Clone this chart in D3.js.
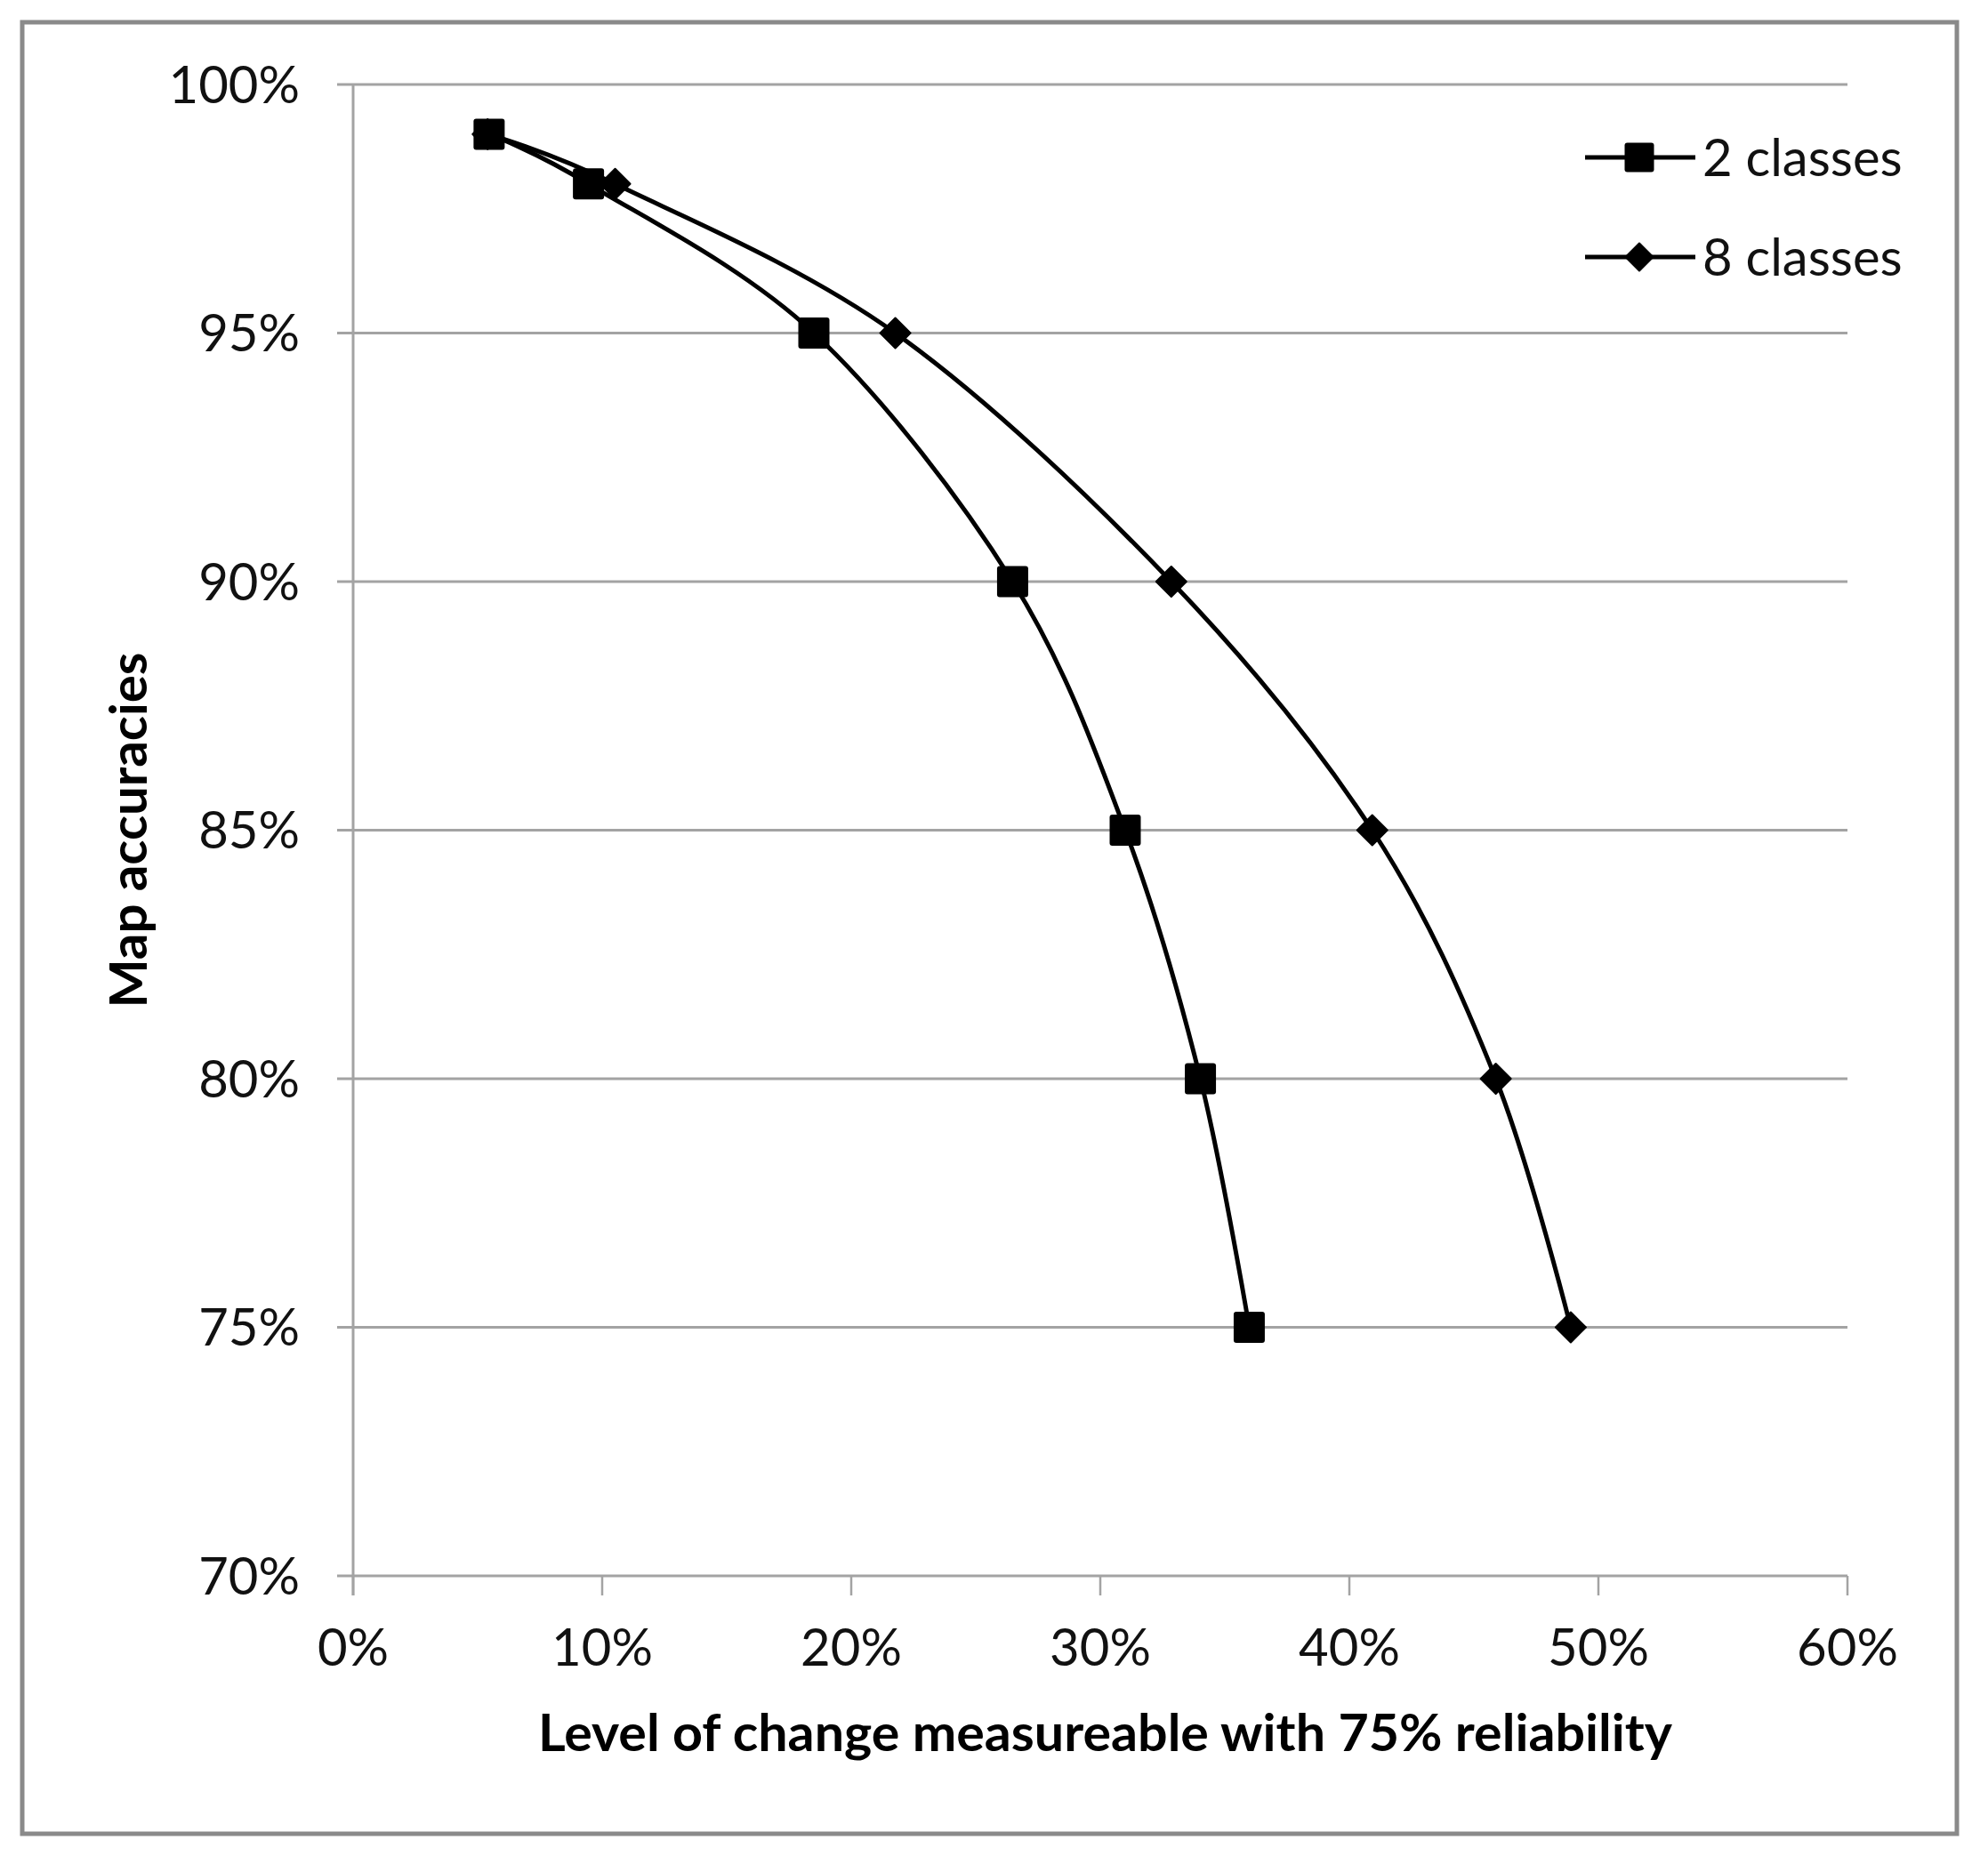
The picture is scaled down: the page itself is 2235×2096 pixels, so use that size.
<!DOCTYPE html>
<html><head><meta charset="utf-8">
<script src="https://cdn.jsdelivr.net/npm/d3@7"></script>
<style>body{margin:0;background:#fff}svg{display:block}</style>
</head><body><svg id="c" width="2235" height="2096"></svg>
<script>
// ---- data ----
const accuracies = [0.99, 0.98, 0.95, 0.90, 0.85, 0.80, 0.75];
const change2classes = [0.0546, 0.0945, 0.185, 0.2648, 0.310, 0.3402, 0.3598];
const change8classes = [0.054, 0.1052, 0.2177, 0.3285, 0.4092, 0.4588, 0.4889];
const seriesNames = ["2 classes", "8 classes"];
const xTickValues = [0, 0.1, 0.2, 0.3, 0.4, 0.5, 0.6];
const yTickValues = [0.70, 0.75, 0.80, 0.85, 0.90, 0.95, 1.00];
const xTitle = "Level of change measureable with 75% reliability";
const yTitle = "Map accuracies";

const svg = d3.select("#c");
const FONT = "Lato, 'Open Sans', sans-serif";

// outer frame
svg.append("rect").attr("x", 25).attr("y", 25).attr("width", 2175).attr("height", 2037)
  .attr("fill", "#fff").attr("stroke", "#8a8a8a").attr("stroke-width", 5);

const x = d3.scaleLinear().domain([0, 0.6]).range([397, 2077]);
const y = d3.scaleLinear().domain([0.70, 1.00]).range([1772, 95]);
const pct = d3.format(".0%");

// gridlines
svg.append("g").selectAll("line").data(yTickValues).join("line")
  .attr("x1", x(0) - 18).attr("x2", x(0.6))
  .attr("y1", d => y(d)).attr("y2", d => y(d))
  .attr("stroke", "#a3a3a3").attr("stroke-width", 3);

// y axis line
svg.append("line").attr("x1", x(0)).attr("x2", x(0)).attr("y1", y(1)).attr("y2", y(0.7) + 22)
  .attr("stroke", "#a3a3a3").attr("stroke-width", 3);
// x ticks
svg.append("g").selectAll("line").data(xTickValues).join("line")
  .attr("x1", d => x(d)).attr("x2", d => x(d))
  .attr("y1", y(0.7)).attr("y2", y(0.7) + 22)
  .attr("stroke", "#a3a3a3").attr("stroke-width", 2.5);

// y tick labels
svg.append("g").selectAll("text").data(yTickValues).join("text")
  .attr("x", 337).attr("y", d => y(d)).attr("dy", "0.36em")
  .attr("text-anchor", "end").attr("font-family", FONT).attr("font-size", 58)
  .attr("fill", "#111").text(d => pct(d));

// x tick labels
svg.append("g").selectAll("text").data(xTickValues).join("text")
  .attr("x", d => x(d)).attr("y", 1873)
  .attr("text-anchor", "middle").attr("font-family", FONT).attr("font-size", 58)
  .attr("fill", "#111").text(d => pct(d));

// axis titles
svg.append("text").attr("x", 605).attr("y", 1969)
  .attr("font-family", FONT).attr("font-weight", "bold").attr("font-size", 57)
  .attr("textLength", 1275).attr("lengthAdjust", "spacingAndGlyphs")
  .attr("fill", "#000").text(xTitle);

svg.append("text").attr("transform", `translate(165, ${(y(1) + y(0.7)) / 2}) rotate(-90)`)
  .attr("text-anchor", "middle")
  .attr("font-family", FONT).attr("font-weight", "bold").attr("font-size", 57)
  .attr("textLength", 400).attr("lengthAdjust", "spacingAndGlyphs")
  .attr("fill", "#000").text(yTitle);

// series
const series = [
  {name: seriesNames[0], xs: change2classes, marker: "square"},
  {name: seriesNames[1], xs: change8classes, marker: "diamond"}
];
const line = d3.line().x(d => x(d[0])).y(d => y(d[1])).curve(d3.curveCatmullRom.alpha(0));

function drawMarker(g, type, cx, cy, s) {
  if (type === "square") {
    g.append("rect").attr("x", cx - s / 2).attr("y", cy - s / 2).attr("width", s).attr("height", s)
      .attr("rx", 3).attr("fill", "#000");
  } else {
    const h = s / 2;
    g.append("path").attr("d", `M${cx},${cy - h}L${cx + h},${cy}L${cx},${cy + h}L${cx - h},${cy}Z`)
      .attr("fill", "#000").attr("stroke", "#000").attr("stroke-width", 2).attr("stroke-linejoin", "round");
  }
}

// draw 8 classes first so 2 classes squares sit on top
[series[1], series[0]].forEach(s => {
  const pts = s.xs.map((v, i) => [v, accuracies[i]]);
  const g = svg.append("g");
  g.append("path").attr("d", line(pts)).attr("fill", "none")
    .attr("stroke", "#000").attr("stroke-width", 5).attr("stroke-linejoin", "round");
  pts.forEach(p => drawMarker(g, s.marker, x(p[0]), y(p[1]), s.marker === "square" ? 35 : 34));
});

// legend
const legendY = [177, 289];
series.forEach((s, i) => {
  const g = svg.append("g");
  g.append("line").attr("x1", 1782).attr("x2", 1906).attr("y1", legendY[i]).attr("y2", legendY[i])
    .attr("stroke", "#000").attr("stroke-width", 5);
  drawMarker(g, s.marker, 1843, legendY[i], s.marker === "square" ? 33 : 31);
  g.append("text").attr("x", 1914).attr("y", legendY[i]).attr("dy", "0.36em")
    .attr("font-family", FONT).attr("font-size", 58).attr("fill", "#111").text(s.name);
});
</script>
</body></html>
